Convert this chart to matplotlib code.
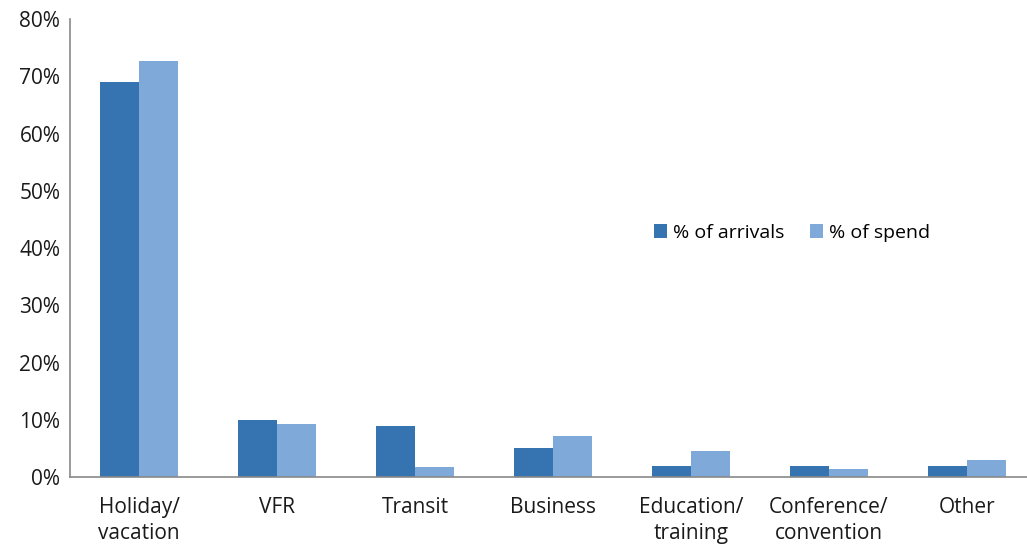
import numpy as np
import matplotlib.pyplot as plt
from matplotlib.ticker import PercentFormatter

categories = ["Holiday/\nvacation", "VFR", "Transit", "Business",
              "Education/\ntraining", "Conference/\nconvention", "Other"]
arrivals = [69.0, 10.0, 8.9, 5.0, 1.9, 1.9, 1.9]
spend    = [72.7, 9.3, 1.7, 7.2, 4.5, 1.35, 3.0]

DARK  = "#3673B1"
LIGHT = "#7FA9D8"
AXIS  = "#898989"

plt.rcParams["font.family"] = ["Open Sans", "DejaVu Sans"]

fig = plt.figure(figsize=(10.27, 5.44), dpi=100)
# axes runs a little past the right edge, as in the source
ax = fig.add_axes([70 / 1027, 0.123, 966 / 1027, 0.842])

x = np.arange(len(categories))
width = 0.286
ax.bar(x - width / 2, arrivals, width, color=DARK, label="% of arrivals")
ax.bar(x + width / 2, spend, width, color=LIGHT, label="% of spend")

ax.set_xlim(-0.5, len(categories) - 0.5)
ax.set_ylim(0, 80)
ax.set_yticks(np.arange(0, 81, 10))
ax.yaxis.set_major_formatter(PercentFormatter(decimals=0))
ax.set_xticks(x)
ax.set_xticklabels(categories, linespacing=1.35)
ax.tick_params(axis="both", length=0, labelsize=15, colors="#1a1a1a")
ax.tick_params(axis="x", pad=14)
ax.tick_params(axis="y", pad=7)

for s in ["top", "right"]:
    ax.spines[s].set_visible(False)
for s in ["left", "bottom"]:
    ax.spines[s].set_color(AXIS)
    ax.spines[s].set_linewidth(1.2)

ax.legend(loc="center", bbox_to_anchor=(792 / 1027, 1 - 233 / 544),
          bbox_transform=fig.transFigure, ncol=2, frameon=False,
          fontsize=14, handlelength=0.7, handleheight=0.7,
          handletextpad=0.3, columnspacing=1.3)

fig.savefig("out.png", dpi=100)
